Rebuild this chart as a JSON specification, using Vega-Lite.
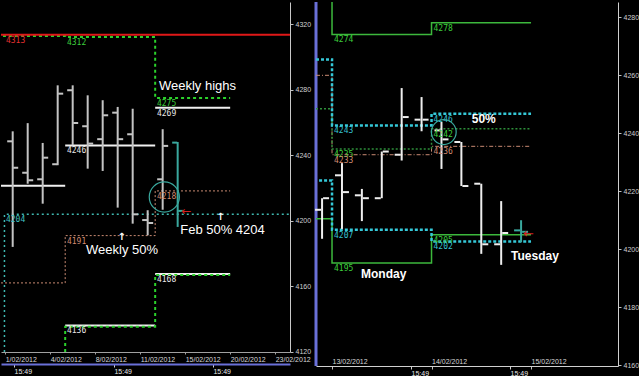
{
"$schema":"https://vega.github.io/schema/vega-lite/v6.json",
"background":"#000000",
"padding":0,
"bounds":"flush",
"spacing":26,
"config":{"view":{"stroke":null},"font":"Liberation Sans","axis":{"grid":false,"labelFont":"Liberation Sans","labelFontSize":7,"labelColor":"#d0d0d0","labelFlush":false,"labelOverlap":false}},
"datasets":{
"lbars":[
{"k":0,"o":4248.5,"h":4254.6,"l":4184.0,"c":4232.4,"s":"n"},
{"k":1,"o":4229.3,"h":4259.6,"l":4222.6,"c":4224.7,"s":"n"},
{"k":2,"o":4225.3,"h":4247.5,"l":4210.4,"c":4238.5,"s":"n"},
{"k":3,"o":4234.5,"h":4282.7,"l":4233.9,"c":4277.6,"s":"n"},
{"k":4,"o":4279.7,"h":4282.7,"l":4246.1,"c":4259.7,"s":"n"},
{"k":5,"o":4257.7,"h":4276.6,"l":4231.8,"c":4247.1,"s":"n"},
{"k":6,"o":4249.8,"h":4273.6,"l":4230.4,"c":4264.4,"s":"n"},
{"k":7,"o":4266.0,"h":4269.5,"l":4208.0,"c":4249.8,"s":"n"},
{"k":8,"o":4252.8,"h":4268.4,"l":4198.2,"c":4203.9,"s":"n"},
{"k":9,"o":4200.4,"h":4206.4,"l":4191.1,"c":4198.6,"s":"n"},
{"k":10,"o":4225.3,"h":4255.9,"l":4206.7,"c":4245.7,"s":"n"},
{"k":11,"o":4247.7,"h":4248.1,"l":4196.2,"c":4206.0,"s":"c"}
],
"lw":[
{"k":-0.78,"k2":3.5,"v":4221.4},
{"k":3.5,"k2":9.5,"v":4246.0},
{"k":9.5,"k2":14.5,"v":4269.0},
{"k":3.5,"k2":9.5,"v":4136.0},
{"k":9.5,"k2":14.5,"v":4167.5}
],
"lv":[
{"g":"red","i":0,"k":-0.78,"v":4313.6},
{"g":"wh","i":0,"k":-0.65,"v":4312.8},{"g":"wh","i":1,"k":3.5,"v":4312.8},{"g":"wh","i":2,"k":3.5,"v":4312.2},{"g":"wh","i":3,"k":9.5,"v":4312.2},{"g":"wh","i":4,"k":9.5,"v":4275},{"g":"wh","i":5,"k":14.5,"v":4275},
{"g":"wl","i":0,"k":3.5,"v":4119.8},{"g":"wl","i":1,"k":3.5,"v":4135.3},{"g":"wl","i":2,"k":9.5,"v":4135.3},{"g":"wl","i":3,"k":9.5,"v":4166.8},{"g":"wl","i":4,"k":14.5,"v":4166.8},
{"g":"w50","i":0,"k":-0.78,"v":4162},{"g":"w50","i":1,"k":3.5,"v":4162},{"g":"w50","i":2,"k":3.5,"v":4190.9},{"g":"w50","i":3,"k":9.5,"v":4190.9},{"g":"w50","i":4,"k":9.5,"v":4218.2},{"g":"w50","i":5,"k":14.5,"v":4218.2},
{"g":"m50","i":0,"k":-0.55,"v":4119.8},{"g":"m50","i":1,"k":-0.55,"v":4203.9},{"g":"m50","i":2,"k":18.49,"v":4203.9}
],
"ll":[
{"k":-0.45,"v":4313.6,"t":"4313","g":"red"},
{"k":3.62,"v":4312.2,"t":"4312","g":"green"},
{"k":9.62,"v":4275,"t":"4275","g":"green"},
{"k":9.62,"v":4269,"t":"4269","g":"white"},
{"k":3.62,"v":4246,"t":"4246","g":"white"},
{"k":9.62,"v":4218.2,"t":"4218","g":"salmon"},
{"k":-0.45,"v":4203.9,"t":"4204","g":"teal"},
{"k":3.62,"v":4190.9,"t":"4191","g":"salmon"},
{"k":9.62,"v":4167.5,"t":"4168","g":"white"},
{"k":3.62,"v":4136.0,"t":"4136","g":"white"}
],
"ln":[
{"k":9.75,"v":4282.3,"t":"Weekly highs"},
{"k":4.89,"v":4182.3,"t":"Weekly 50%"},
{"k":11.17,"v":4194.2,"t":"Feb 50% 4204"}
],
"la":[
{"k":7.27,"v":4190.2,"t":"↑"},
{"k":13.85,"v":4202.2,"t":"↑"}
],
"lra":[{"k":11.59,"v":4206.0,"t":"←"}],
"lc":[{"k":10.11,"v":4214.5}],
"ls":[{"k":0.087},{"k":6.753},{"k":13.35}],
"rbars":[
{"t":-0.1,"o":4213.6,"h":4217.6,"l":4203.6,"c":4217.6,"s":"n"},
{"t":0.1,"o":4225.5,"h":4229.7,"l":4207.0,"c":4219.7,"s":"n"},
{"t":0.3,"o":4218.6,"h":4220.8,"l":4209.7,"c":4217.6,"s":"n"},
{"t":0.5,"o":4217.6,"h":4233.7,"l":4217.6,"c":4233.7,"s":"n"},
{"t":0.7,"o":4232.6,"h":4255.6,"l":4230.6,"c":4245.6,"s":"n"},
{"t":0.9,"o":4244.7,"h":4252.5,"l":4240.7,"c":4244.7,"s":"n"},
{"t":1.1,"o":4241.0,"h":4243.9,"l":4227.7,"c":4237.9,"s":"n"},
{"t":1.3,"o":4237.0,"h":4237.0,"l":4221.8,"c":4221.8,"s":"n"},
{"t":1.5,"o":4222.6,"h":4222.6,"l":4198.4,"c":4201.7,"s":"n"},
{"t":1.7,"o":4201.7,"h":4216.6,"l":4194.6,"c":4205.6,"s":"n"},
{"t":1.9,"o":4206.5,"h":4210.0,"l":4202.4,"c":4206.0,"s":"c"}
],
"rv":[
{"g":"gh","i":0,"t":0,"v":4285.3},{"g":"gh","i":1,"t":0,"v":4274.1},{"g":"gh","i":2,"t":1,"v":4274.1},{"g":"gh","i":3,"t":1,"v":4278.1},{"g":"gh","i":4,"t":2,"v":4278.1},
{"g":"gl","i":0,"t":-0.161,"v":4210.5},{"g":"gl","i":1,"t":0,"v":4210.5},{"g":"gl","i":2,"t":0,"v":4195.2},{"g":"gl","i":3,"t":1,"v":4195.2},{"g":"gl","i":4,"t":1,"v":4205.0},{"g":"gl","i":5,"t":2,"v":4205.0},
{"g":"cu","i":0,"t":-0.161,"v":4265.5},{"g":"cu","i":1,"t":0,"v":4265.5},{"g":"cu","i":2,"t":0,"v":4242.7},{"g":"cu","i":3,"t":1,"v":4242.7},{"g":"cu","i":4,"t":1,"v":4246.7},{"g":"cu","i":5,"t":2,"v":4246.7},
{"g":"cl","i":0,"t":-0.13,"v":4223.7},{"g":"cl","i":1,"t":0,"v":4223.7},{"g":"cl","i":2,"t":0,"v":4206.7},{"g":"cl","i":3,"t":1,"v":4206.7},{"g":"cl","i":4,"t":1,"v":4202.7},{"g":"cl","i":5,"t":2,"v":4202.7},
{"g":"dg","i":0,"t":-0.161,"v":4248.5},{"g":"dg","i":1,"t":0,"v":4248.5},{"g":"dg","i":2,"t":0,"v":4234.6},{"g":"dg","i":3,"t":1,"v":4234.6},{"g":"dg","i":4,"t":1,"v":4241.6},{"g":"dg","i":5,"t":2,"v":4241.6},
{"g":"sa","i":0,"t":-0.161,"v":4260.0},{"g":"sa","i":1,"t":0,"v":4260.0},{"g":"sa","i":2,"t":0,"v":4232.6},{"g":"sa","i":3,"t":1,"v":4232.6},{"g":"sa","i":4,"t":1,"v":4235.5},{"g":"sa","i":5,"t":2,"v":4235.5}
],
"rl":[
{"t":0.02,"v":4274.1,"x":"4274","g":"green"},
{"t":1.02,"v":4278.1,"x":"4278","g":"green"},
{"t":0.02,"v":4242.7,"x":"4243","g":"cyan"},
{"t":1.02,"v":4246.7,"x":"4246","g":"cyan"},
{"t":1.02,"v":4241.6,"x":"4242","g":"green"},
{"t":0.02,"v":4234.6,"x":"4235","g":"green"},
{"t":0.02,"v":4232.6,"x":"4233","g":"salmon"},
{"t":1.02,"v":4235.5,"x":"4236","g":"salmon"},
{"t":0.02,"v":4206.7,"x":"4207","g":"cyan"},
{"t":1.02,"v":4205.0,"x":"4205","g":"green"},
{"t":1.02,"v":4202.7,"x":"4202","g":"cyan"},
{"t":0.02,"v":4195.2,"x":"4195","g":"green"}
],
"rn":[
{"t":1.404,"v":4244.8,"x":"50%"},
{"t":0.291,"v":4191.3,"x":"Monday"},
{"t":1.799,"v":4197.6,"x":"Tuesday"}
],
"rc":[{"t":1.123,"v":4240.4}],
"rra":[{"t":1.973,"v":4205.3,"x":"←"}],
"rsep":[{"t":-0.161}],
"rs":[{"t":0.794},{"t":1.789}]
},
"hconcat":[
{
"width":289,"height":350,
"resolve":{"scale":{"x":"independent","color":"independent"}},
"layer":[
{"data":{"name":"lw"},"mark":{"type":"rule","stroke":"#f0f0f0","strokeWidth":2},
 "encoding":{
  "x":{"field":"k","type":"quantitative","scale":{"domain":[-0.78,18.49],"nice":false,"zero":false},
   "axis":{"orient":"bottom","title":null,"values":[-0.5,2.5,5.5,8.5,11.5,14.5,17.5],"labelExpr":"['1/02/2012','4/02/2012','8/02/2012','11/02/2012','15/02/2012','20/02/2012','23/02/2012'][round((datum.value+0.5)/3)]","labelAlign":"left","labelPadding":1,"tickSize":2,"tickColor":"#a0a0a0","domainColor":"#a0a0a0","labelColor":"#d8d8d8"}},
  "x2":{"field":"k2"},
  "y":{"field":"v","type":"quantitative","scale":{"domain":[4119.8,4333.6],"nice":false,"zero":false},
   "axis":{"orient":"right","title":null,"format":"d","values":[4120,4160,4200,4240,4280,4320],"tickSize":3,"tickColor":"#c0c0c0","domainColor":"#c8c8c8","labelPadding":2}}
 }},
{"data":{"name":"lv"},"transform":[{"filter":"datum.g==='m50'"}],"mark":{"type":"line","stroke":"#3fb8b0","strokeWidth":1.5,"strokeDash":[2,3],"clip":true},
 "encoding":{"x":{"field":"k","type":"quantitative","scale":{"domain":[-0.78,18.49],"nice":false,"zero":false},"axis":null},
  "y":{"field":"v","type":"quantitative","axis":{"orient":"right","title":null,"format":"d","values":[4120,4160,4200,4240,4280,4320],"tickSize":3,"tickColor":"#c0c0c0","domainColor":"#c8c8c8","labelPadding":2}},"order":{"field":"i"}}},
{"data":{"name":"lv"},"transform":[{"filter":"datum.g==='w50'"}],"mark":{"type":"line","stroke":"#c98a72","strokeWidth":1,"strokeDash":[2,2],"clip":true},
 "encoding":{"x":{"field":"k","type":"quantitative","scale":{"domain":[-0.78,18.49],"nice":false,"zero":false},"axis":null},
  "y":{"field":"v","type":"quantitative","axis":{"orient":"right","title":null,"format":"d","values":[4120,4160,4200,4240,4280,4320],"tickSize":3,"tickColor":"#c0c0c0","domainColor":"#c8c8c8","labelPadding":2}},"order":{"field":"i"}}},
{"data":{"name":"lbars"},"mark":{"type":"rule","strokeWidth":2},
 "encoding":{"x":{"field":"k","type":"quantitative","scale":{"domain":[-0.78,18.49],"nice":false,"zero":false},"axis":null},
  "y":{"field":"l","type":"quantitative","axis":{"orient":"right","title":null,"format":"d","values":[4120,4160,4200,4240,4280,4320],"tickSize":3,"tickColor":"#c0c0c0","domainColor":"#c8c8c8","labelPadding":2}},"y2":{"field":"h"},
  "color":{"field":"s","type":"nominal","scale":{"domain":["n","c"],"range":["#c4c4c4","#3aa89e"]},"legend":null}}},
{"data":{"name":"lbars"},"mark":{"type":"tick","orient":"horizontal","size":5,"thickness":2,"xOffset":-3,"opacity":1},
 "encoding":{"x":{"field":"k","type":"quantitative","scale":{"domain":[-0.78,18.49],"nice":false,"zero":false},"axis":null},
  "y":{"field":"o","type":"quantitative","axis":{"orient":"right","title":null,"format":"d","values":[4120,4160,4200,4240,4280,4320],"tickSize":3,"tickColor":"#c0c0c0","domainColor":"#c8c8c8","labelPadding":2}},
  "color":{"field":"s","type":"nominal","scale":{"domain":["n","c"],"range":["#c4c4c4","#3aa89e"]},"legend":null}}},
{"data":{"name":"lbars"},"mark":{"type":"tick","orient":"horizontal","size":5,"thickness":2,"xOffset":3,"opacity":1},
 "encoding":{"x":{"field":"k","type":"quantitative","scale":{"domain":[-0.78,18.49],"nice":false,"zero":false},"axis":null},
  "y":{"field":"c","type":"quantitative","axis":{"orient":"right","title":null,"format":"d","values":[4120,4160,4200,4240,4280,4320],"tickSize":3,"tickColor":"#c0c0c0","domainColor":"#c8c8c8","labelPadding":2}},
  "color":{"field":"s","type":"nominal","scale":{"domain":["n","c"],"range":["#c4c4c4","#3aa89e"]},"legend":null}}},
{"data":{"name":"lv"},"transform":[{"filter":"datum.g==='wh'"}],"mark":{"type":"line","stroke":"#2bd12b","strokeWidth":2,"strokeDash":[3,3],"clip":true},
 "encoding":{"x":{"field":"k","type":"quantitative","scale":{"domain":[-0.78,18.49],"nice":false,"zero":false},"axis":null},
  "y":{"field":"v","type":"quantitative","axis":{"orient":"right","title":null,"format":"d","values":[4120,4160,4200,4240,4280,4320],"tickSize":3,"tickColor":"#c0c0c0","domainColor":"#c8c8c8","labelPadding":2}},"order":{"field":"i"}}},
{"data":{"name":"lv"},"transform":[{"filter":"datum.g==='wl'"}],"mark":{"type":"line","stroke":"#2bd12b","strokeWidth":2,"strokeDash":[3,3],"clip":true},
 "encoding":{"x":{"field":"k","type":"quantitative","scale":{"domain":[-0.78,18.49],"nice":false,"zero":false},"axis":null},
  "y":{"field":"v","type":"quantitative","axis":{"orient":"right","title":null,"format":"d","values":[4120,4160,4200,4240,4280,4320],"tickSize":3,"tickColor":"#c0c0c0","domainColor":"#c8c8c8","labelPadding":2}},"order":{"field":"i"}}},
{"data":{"name":"lv"},"transform":[{"filter":"datum.g==='red'"}],"mark":{"type":"rule","stroke":"#e01818","strokeWidth":2},
 "encoding":{"y":{"field":"v","type":"quantitative","axis":{"orient":"right","title":null,"format":"d","values":[4120,4160,4200,4240,4280,4320],"tickSize":3,"tickColor":"#c0c0c0","domainColor":"#c8c8c8","labelPadding":2}}}},
{"data":{"name":"ll"},"mark":{"type":"text","align":"left","baseline":"top","dy":2,"font":"DejaVu Sans Mono","fontSize":8},
 "encoding":{"x":{"field":"k","type":"quantitative","scale":{"domain":[-0.78,18.49],"nice":false,"zero":false},"axis":null},
  "y":{"field":"v","type":"quantitative","axis":{"orient":"right","title":null,"format":"d","values":[4120,4160,4200,4240,4280,4320],"tickSize":3,"tickColor":"#c0c0c0","domainColor":"#c8c8c8","labelPadding":2}},"text":{"field":"t"},
  "color":{"field":"g","type":"nominal","scale":{"domain":["red","green","white","salmon","teal"],"range":["#e03030","#3ccf3c","#e8e8e8","#d08a70","#40c0c0"]},"legend":null}}},
{"data":{"name":"ln"},"mark":{"type":"text","align":"left","baseline":"middle","font":"Liberation Sans","fontSize":13,"color":"#ffffff"},
 "encoding":{"x":{"field":"k","type":"quantitative","scale":{"domain":[-0.78,18.49],"nice":false,"zero":false},"axis":null},
  "y":{"field":"v","type":"quantitative","axis":{"orient":"right","title":null,"format":"d","values":[4120,4160,4200,4240,4280,4320],"tickSize":3,"tickColor":"#c0c0c0","domainColor":"#c8c8c8","labelPadding":2}},"text":{"field":"t"}}},
{"data":{"name":"la"},"mark":{"type":"text","align":"center","baseline":"middle","font":"DejaVu Sans","fontSize":10,"fontWeight":"bold","color":"#ffffff"},
 "encoding":{"x":{"field":"k","type":"quantitative","scale":{"domain":[-0.78,18.49],"nice":false,"zero":false},"axis":null},
  "y":{"field":"v","type":"quantitative","axis":{"orient":"right","title":null,"format":"d","values":[4120,4160,4200,4240,4280,4320],"tickSize":3,"tickColor":"#c0c0c0","domainColor":"#c8c8c8","labelPadding":2}},"text":{"field":"t"}}},
{"data":{"name":"lra"},"mark":{"type":"text","align":"center","baseline":"middle","font":"DejaVu Sans","fontSize":12,"color":"#d42020"},
 "encoding":{"x":{"field":"k","type":"quantitative","scale":{"domain":[-0.78,18.49],"nice":false,"zero":false},"axis":null},
  "y":{"field":"v","type":"quantitative","axis":{"orient":"right","title":null,"format":"d","values":[4120,4160,4200,4240,4280,4320],"tickSize":3,"tickColor":"#c0c0c0","domainColor":"#c8c8c8","labelPadding":2}},"text":{"field":"t"}}},
{"data":{"name":"lc"},"mark":{"type":"point","shape":"circle","filled":false,"size":908,"stroke":"#3aa89e","strokeWidth":1.2,"opacity":1},
 "encoding":{"x":{"field":"k","type":"quantitative","scale":{"domain":[-0.78,18.49],"nice":false,"zero":false},"axis":null},
  "y":{"field":"v","type":"quantitative","axis":{"orient":"right","title":null,"format":"d","values":[4120,4160,4200,4240,4280,4320],"tickSize":3,"tickColor":"#c0c0c0","domainColor":"#c8c8c8","labelPadding":2}}}},
{"data":{"name":"ls"},"mark":{"type":"point","opacity":0},
 "encoding":{"x":{"field":"k","type":"quantitative","scale":{"domain":[-0.78,18.49],"nice":false,"zero":false},
  "axis":{"orient":"bottom","offset":12,"title":null,"values":[0.087,6.753,13.35],"labelExpr":"'15:49'","labelAlign":"left","labelPadding":0,"tickSize":3,"tickColor":"#d0d0d0","domainColor":"#6a70d8","domainWidth":2,"labelColor":"#e8e8e8"}},
  "y":{"datum":4200,"type":"quantitative","axis":{"orient":"right","title":null,"format":"d","values":[4120,4160,4200,4240,4280,4320],"tickSize":3,"tickColor":"#c0c0c0","domainColor":"#c8c8c8","labelPadding":2}}}}
]
},
{
"width":302,"height":364,
"resolve":{"scale":{"x":"independent","color":"independent"}},
"layer":[
{"data":{"name":"rsep"},"mark":{"type":"rule","stroke":"#6a70d8","strokeWidth":3},
 "encoding":{
  "x":{"field":"t","type":"quantitative","scale":{"domain":[-0.161,2.874],"nice":false,"zero":false},
   "axis":{"orient":"bottom","title":null,"values":[0,1,2],"labelExpr":"['13/02/2012','14/02/2012','15/02/2012'][datum.value]","labelAlign":"left","labelBaseline":"bottom","labelPadding":-5,"tickSize":3,"tickColor":"#c0c0c0","domainColor":"#d0d0d0","labelColor":"#d8d8d8"}}
 }},
{"data":{"name":"rv"},"transform":[{"filter":"datum.g==='gh'"}],"mark":{"type":"line","stroke":"#3cb83c","strokeWidth":1.5,"clip":true},
 "encoding":{"x":{"field":"t","type":"quantitative","scale":{"domain":[-0.161,2.874],"nice":false,"zero":false},"axis":null},
  "y":{"field":"v","type":"quantitative","scale":{"domain":[4159.7,4285.3],"nice":false,"zero":false},
   "axis":{"orient":"right","title":null,"format":"d","values":[4160,4180,4200,4220,4240,4260,4280],"tickSize":3,"tickColor":"#c0c0c0","domainColor":"#d0d0d0","labelPadding":2}},
  "order":{"field":"i"}}},
{"data":{"name":"rv"},"transform":[{"filter":"datum.g==='gl'"}],"mark":{"type":"line","stroke":"#3cb83c","strokeWidth":1.5,"clip":true},
 "encoding":{"x":{"field":"t","type":"quantitative","scale":{"domain":[-0.161,2.874],"nice":false,"zero":false},"axis":null},
  "y":{"field":"v","type":"quantitative","axis":{"orient":"right","title":null,"format":"d","values":[4160,4180,4200,4220,4240,4260,4280],"tickSize":3,"tickColor":"#c0c0c0","domainColor":"#d0d0d0","labelPadding":2}},"order":{"field":"i"}}},
{"data":{"name":"rv"},"transform":[{"filter":"datum.g==='sa'"}],"mark":{"type":"line","stroke":"#c98a72","strokeWidth":1,"strokeDash":[4,2,1,2],"clip":true},
 "encoding":{"x":{"field":"t","type":"quantitative","scale":{"domain":[-0.161,2.874],"nice":false,"zero":false},"axis":null},
  "y":{"field":"v","type":"quantitative","axis":{"orient":"right","title":null,"format":"d","values":[4160,4180,4200,4220,4240,4260,4280],"tickSize":3,"tickColor":"#c0c0c0","domainColor":"#d0d0d0","labelPadding":2}},"order":{"field":"i"}}},
{"data":{"name":"rv"},"transform":[{"filter":"datum.g==='dg'"}],"mark":{"type":"line","stroke":"#2e8f3a","strokeWidth":1.5,"strokeDash":[2,2],"clip":true},
 "encoding":{"x":{"field":"t","type":"quantitative","scale":{"domain":[-0.161,2.874],"nice":false,"zero":false},"axis":null},
  "y":{"field":"v","type":"quantitative","axis":{"orient":"right","title":null,"format":"d","values":[4160,4180,4200,4220,4240,4260,4280],"tickSize":3,"tickColor":"#c0c0c0","domainColor":"#d0d0d0","labelPadding":2}},"order":{"field":"i"}}},
{"data":{"name":"rv"},"transform":[{"filter":"datum.g==='cu'"}],"mark":{"type":"line","stroke":"#35c8d8","strokeWidth":2.5,"strokeDash":[3,2],"clip":true},
 "encoding":{"x":{"field":"t","type":"quantitative","scale":{"domain":[-0.161,2.874],"nice":false,"zero":false},"axis":null},
  "y":{"field":"v","type":"quantitative","axis":{"orient":"right","title":null,"format":"d","values":[4160,4180,4200,4220,4240,4260,4280],"tickSize":3,"tickColor":"#c0c0c0","domainColor":"#d0d0d0","labelPadding":2}},"order":{"field":"i"}}},
{"data":{"name":"rv"},"transform":[{"filter":"datum.g==='cl'"}],"mark":{"type":"line","stroke":"#35c8d8","strokeWidth":2.5,"strokeDash":[3,2],"clip":true},
 "encoding":{"x":{"field":"t","type":"quantitative","scale":{"domain":[-0.161,2.874],"nice":false,"zero":false},"axis":null},
  "y":{"field":"v","type":"quantitative","axis":{"orient":"right","title":null,"format":"d","values":[4160,4180,4200,4220,4240,4260,4280],"tickSize":3,"tickColor":"#c0c0c0","domainColor":"#d0d0d0","labelPadding":2}},"order":{"field":"i"}}},
{"data":{"name":"rbars"},"mark":{"type":"rule","strokeWidth":2},
 "encoding":{"x":{"field":"t","type":"quantitative","scale":{"domain":[-0.161,2.874],"nice":false,"zero":false},"axis":null},
  "y":{"field":"l","type":"quantitative","axis":{"orient":"right","title":null,"format":"d","values":[4160,4180,4200,4220,4240,4260,4280],"tickSize":3,"tickColor":"#c0c0c0","domainColor":"#d0d0d0","labelPadding":2}},"y2":{"field":"h"},
  "color":{"field":"s","type":"nominal","scale":{"domain":["n","c"],"range":["#eeeeee","#3aa89e"]},"legend":null}}},
{"data":{"name":"rbars"},"mark":{"type":"tick","orient":"horizontal","size":6,"thickness":2,"xOffset":-4,"opacity":1},
 "encoding":{"x":{"field":"t","type":"quantitative","scale":{"domain":[-0.161,2.874],"nice":false,"zero":false},"axis":null},
  "y":{"field":"o","type":"quantitative","axis":{"orient":"right","title":null,"format":"d","values":[4160,4180,4200,4220,4240,4260,4280],"tickSize":3,"tickColor":"#c0c0c0","domainColor":"#d0d0d0","labelPadding":2}},
  "color":{"field":"s","type":"nominal","scale":{"domain":["n","c"],"range":["#eeeeee","#3aa89e"]},"legend":null}}},
{"data":{"name":"rbars"},"mark":{"type":"tick","orient":"horizontal","size":6,"thickness":2,"xOffset":4,"opacity":1},
 "encoding":{"x":{"field":"t","type":"quantitative","scale":{"domain":[-0.161,2.874],"nice":false,"zero":false},"axis":null},
  "y":{"field":"c","type":"quantitative","axis":{"orient":"right","title":null,"format":"d","values":[4160,4180,4200,4220,4240,4260,4280],"tickSize":3,"tickColor":"#c0c0c0","domainColor":"#d0d0d0","labelPadding":2}},
  "color":{"field":"s","type":"nominal","scale":{"domain":["n","c"],"range":["#eeeeee","#3aa89e"]},"legend":null}}},
{"data":{"name":"rl"},"mark":{"type":"text","align":"left","baseline":"top","dy":2,"font":"DejaVu Sans Mono","fontSize":8},
 "encoding":{"x":{"field":"t","type":"quantitative","scale":{"domain":[-0.161,2.874],"nice":false,"zero":false},"axis":null},
  "y":{"field":"v","type":"quantitative","axis":{"orient":"right","title":null,"format":"d","values":[4160,4180,4200,4220,4240,4260,4280],"tickSize":3,"tickColor":"#c0c0c0","domainColor":"#d0d0d0","labelPadding":2}},"text":{"field":"x"},
  "color":{"field":"g","type":"nominal","scale":{"domain":["green","cyan","salmon"],"range":["#3ccf3c","#35c0d0","#d08a70"]},"legend":null}}},
{"data":{"name":"rn"},"mark":{"type":"text","align":"left","baseline":"middle","font":"Liberation Sans","fontSize":12,"fontWeight":"bold","color":"#ffffff"},
 "encoding":{"x":{"field":"t","type":"quantitative","scale":{"domain":[-0.161,2.874],"nice":false,"zero":false},"axis":null},
  "y":{"field":"v","type":"quantitative","axis":{"orient":"right","title":null,"format":"d","values":[4160,4180,4200,4220,4240,4260,4280],"tickSize":3,"tickColor":"#c0c0c0","domainColor":"#d0d0d0","labelPadding":2}},"text":{"field":"x"}}},
{"data":{"name":"rc"},"mark":{"type":"point","shape":"circle","filled":false,"size":616,"stroke":"#3aa89e","strokeWidth":1.2,"opacity":1},
 "encoding":{"x":{"field":"t","type":"quantitative","scale":{"domain":[-0.161,2.874],"nice":false,"zero":false},"axis":null},
  "y":{"field":"v","type":"quantitative","axis":{"orient":"right","title":null,"format":"d","values":[4160,4180,4200,4220,4240,4260,4280],"tickSize":3,"tickColor":"#c0c0c0","domainColor":"#d0d0d0","labelPadding":2}}}},
{"data":{"name":"rra"},"mark":{"type":"text","align":"center","baseline":"middle","font":"DejaVu Sans","fontSize":13,"color":"#d42020"},
 "encoding":{"x":{"field":"t","type":"quantitative","scale":{"domain":[-0.161,2.874],"nice":false,"zero":false},"axis":null},
  "y":{"field":"v","type":"quantitative","axis":{"orient":"right","title":null,"format":"d","values":[4160,4180,4200,4220,4240,4260,4280],"tickSize":3,"tickColor":"#c0c0c0","domainColor":"#d0d0d0","labelPadding":2}},"text":{"field":"x"}}},
{"data":{"name":"rs"},"mark":{"type":"point","opacity":0},
 "encoding":{"x":{"field":"t","type":"quantitative","scale":{"domain":[-0.161,2.874],"nice":false,"zero":false},
  "axis":{"orient":"bottom","offset":0,"title":null,"values":[0.794,1.789],"labelExpr":"'15:49'","labelAlign":"left","labelPadding":0,"tickSize":3,"tickColor":"#d0d0d0","domain":false,"labelColor":"#e8e8e8"}},
  "y":{"datum":4200,"type":"quantitative","axis":{"orient":"right","title":null,"format":"d","values":[4160,4180,4200,4220,4240,4260,4280],"tickSize":3,"tickColor":"#c0c0c0","domainColor":"#d0d0d0","labelPadding":2}}}}
]
}
]
}
